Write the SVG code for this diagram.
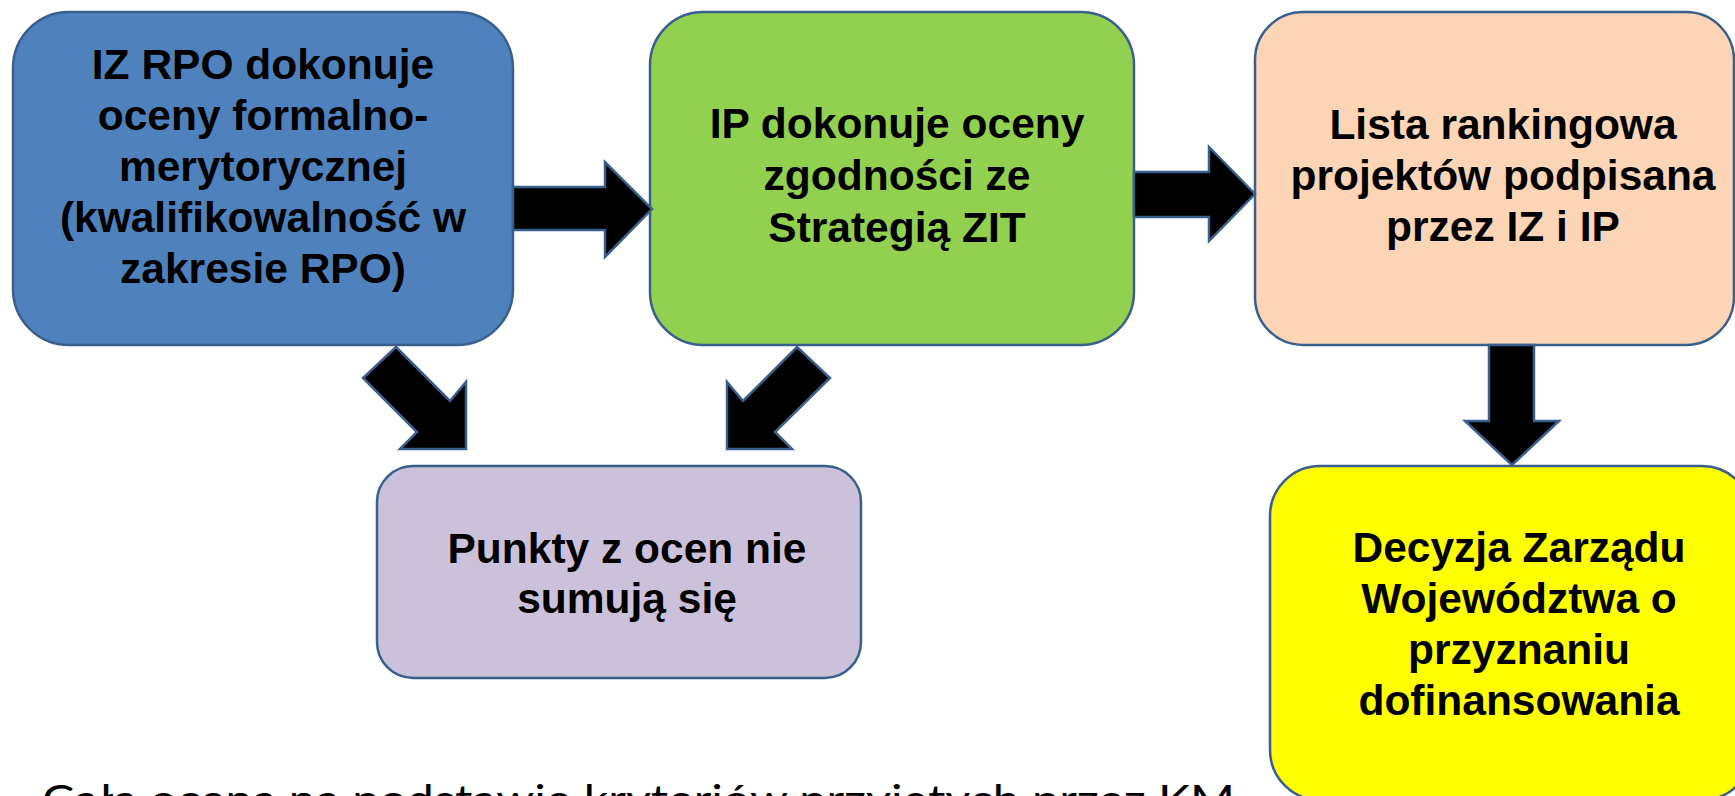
<svg xmlns="http://www.w3.org/2000/svg" width="1735" height="796" viewBox="0 0 1735 796">
<style>
.box{stroke:#3A5F8C;stroke-width:2.5}
.lbl{font-family:"Liberation Sans",Arial,sans-serif;font-weight:bold;font-size:42.5px;fill:#000;text-anchor:middle}
.arr{fill:#000;stroke:#3A5F8C;stroke-width:2.5;stroke-linejoin:miter}
.note{font-family:Lato,"Open Sans",sans-serif;font-size:40px;fill:#000}
</style>
<rect width="1735" height="796" fill="#fff"/>
<g id="n1">
<rect class="box" x="13" y="12" width="500" height="333" rx="56" fill="#4F81BD"/>
<text class="lbl" x="263"><tspan x="263" y="79">IZ RPO dokonuje</tspan><tspan x="263" y="130">oceny formalno-</tspan><tspan x="263" y="181">merytorycznej</tspan><tspan x="263" y="232">(kwalifikowalność w</tspan><tspan x="263" y="283">zakresie RPO)</tspan></text>
</g>
<g id="n2">
<rect class="box" x="650" y="12" width="484" height="333" rx="53" fill="#92D050"/>
<text class="lbl"><tspan x="897" y="138">IP dokonuje oceny</tspan><tspan x="897" y="190">zgodności ze</tspan><tspan x="897" y="242">Strategią ZIT</tspan></text>
</g>
<g id="n3">
<rect class="box" x="1255" y="12" width="479" height="333" rx="48" fill="#FBD5B5"/>
<text class="lbl"><tspan x="1503" y="139">Lista rankingowa</tspan><tspan x="1503" y="190">projektów podpisana</tspan><tspan x="1503" y="241">przez IZ i IP</tspan></text>
</g>
<g id="n4">
<rect class="box" x="1270" y="466" width="482" height="334" rx="50" fill="#FFFF00"/>
<text class="lbl"><tspan x="1519" y="562">Decyzja Zarządu</tspan><tspan x="1519" y="613">Województwa o</tspan><tspan x="1519" y="664">przyznaniu</tspan><tspan x="1519" y="715">dofinansowania</tspan></text>
</g>
<g id="n5">
<rect class="box" x="377" y="466" width="484" height="212" rx="36" fill="#CCC1DA"/>
<text class="lbl"><tspan x="627" y="563">Punkty z ocen nie</tspan><tspan x="627" y="613">sumują się</tspan></text>
</g>
<g id="connectors">
<polygon class="arr" points="513,187 605,187 605,162 652,209 605,257 605,230 513,230"/>
<polygon class="arr" points="1134,172 1209,172 1209,147 1255,194 1209,241 1209,217 1134,217"/>
<polygon class="arr" points="1489,345 1534,345 1534,421 1559,421 1512,465 1465,421 1489,421"/>
<polygon class="arr" points="396,347 450,401 466,382 466,449 400,449 417,432 363,378"/>
<polygon class="arr" points="797,347 830,378 775,432 792,449 727,449 727,382 743,401"/>
</g>
<text id="note" class="note" x="42" y="814" textLength="1193" lengthAdjust="spacingAndGlyphs">Cała ocena na podstawie kryteriów przyjętych przez KM</text>
</svg>
